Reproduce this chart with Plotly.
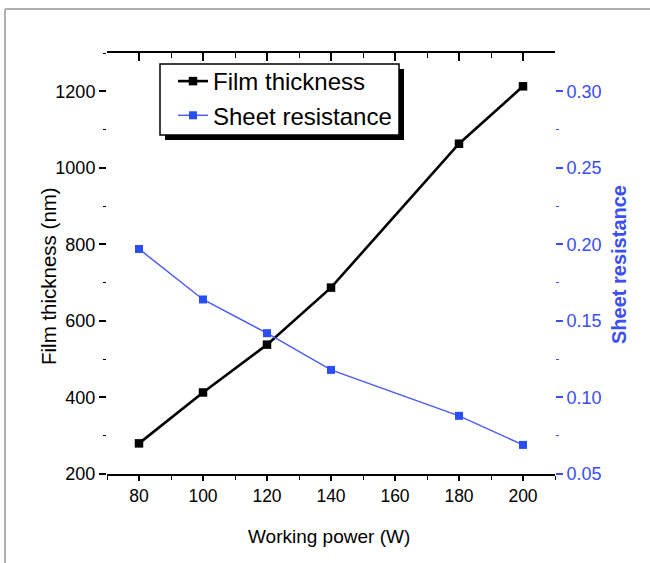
import plotly.graph_objects as go

power = [80, 100, 120, 140, 180, 200]
film_thickness = [280, 413, 538, 687, 1063, 1213]
sheet_resistance = [0.197, 0.164, 0.142, 0.118, 0.088, 0.069]

x_major = [80, 100, 120, 140, 160, 180, 200]
x_minor = [70, 90, 110, 130, 150, 170, 190, 210]
y1_major = [200, 400, 600, 800, 1000, 1200]
y1_minor = [300, 500, 700, 900, 1100, 1300]
y2_major = [0.05, 0.10, 0.15, 0.20, 0.25, 0.30]
y2_labels = ["0.05", "0.10", "0.15", "0.20", "0.25", "0.30"]
y2_minor = [0.075, 0.125, 0.175, 0.225, 0.275]

x_title = "Working power (W)"
y1_title = "Film thickness (nm)"
y2_title = "Sheet resistance"

FONT = "Liberation Sans, Arial, sans-serif"
BLUE = "#3a4ef4"
BLUE_LINE = "#4d5cf2"

# plot area in px: x 107..555, y 53..474
W, H = 650, 563
L, R, T, B = 107, 555, 53, 474
def px(x):
    return (x - L) / (R - L)
def py(y):
    return (B - y) / (B - T)

fig = go.Figure()
fig.add_trace(go.Scatter(
    x=power, y=film_thickness, name="Film thickness", mode="lines+markers",
    line=dict(color="black", width=2.6),
    marker=dict(symbol="square", size=8.5, color="black"),
    xaxis="x", yaxis="y"))
fig.add_trace(go.Scatter(
    x=power, y=sheet_resistance, name="Sheet resistance", mode="lines+markers",
    line=dict(color=BLUE_LINE, width=1.5),
    marker=dict(symbol="square", size=8, color="#2a4ef5"),
    xaxis="x", yaxis="y2"))
fig.add_trace(go.Scatter(x=[None], y=[None], xaxis="x2", yaxis="y",
                         showlegend=False, hoverinfo="skip"))

fig.update_layout(
    width=W, height=H,
    margin=dict(l=L, r=W - R, t=T, b=H - B, pad=0),
    plot_bgcolor="white", paper_bgcolor="white",
    font=dict(family=FONT, size=17, color="black"),
    xaxis=dict(
        range=[70, 210], tickvals=x_major, ticktext=[str(v) for v in x_major],
        ticks="outside", ticklen=5, tickwidth=1.5, tickcolor="black",
        showline=True, linecolor="black", linewidth=2, showgrid=False, zeroline=False,
        minor=dict(tickvals=x_minor, ticks="outside", ticklen=4, tickwidth=1, tickcolor="black"),
        tickfont=dict(size=17.5),
    ),
    xaxis2=dict(
        range=[70, 210], overlaying="x", side="top", anchor="y",
        tickvals=x_major, showticklabels=False,
        ticks="inside", ticklen=8, tickwidth=1.5, tickcolor="black",
        showline=True, linecolor="black", linewidth=2, showgrid=False, zeroline=False,
        minor=dict(tickvals=x_minor, ticks="inside", ticklen=5, tickwidth=1, tickcolor="black"),
    ),
    yaxis=dict(
        range=[200, 1300], tickvals=y1_major, ticktext=[str(v) for v in y1_major],
        ticks="outside", ticklen=7, tickwidth=1.5, tickcolor="black",
        showline=False, showgrid=False, zeroline=False,
        minor=dict(tickvals=y1_minor, ticks="outside", ticklen=3, tickwidth=1, tickcolor="black"),
        tickfont=dict(size=18),
    ),
    yaxis2=dict(
        range=[0.05, 0.325], overlaying="y", side="right", anchor="x",
        tickvals=y2_major, ticktext=y2_labels,
        ticks="outside", ticklen=7, tickwidth=1.5, tickcolor=BLUE,
        showline=False, showgrid=False, zeroline=False,
        minor=dict(tickvals=y2_minor, ticks="outside", ticklen=3, tickwidth=1, tickcolor=BLUE),
        tickfont=dict(size=18, color=BLUE),
    ),
    legend=dict(
        x=px(173), y=py(59), xanchor="left", yanchor="top",
        bgcolor="rgba(0,0,0,0)", borderwidth=0,
        font=dict(size=24, family=FONT, color="black"),
        tracegroupgap=0,
    ),
    showlegend=True,
    annotations=[
        dict(text=x_title, xref="paper", yref="paper", x=px(329), y=py(536),
             xanchor="center", yanchor="middle", showarrow=False,
             font=dict(size=19, color="black")),
        dict(text=y1_title, xref="paper", yref="paper", x=px(48), y=py(276),
             xanchor="center", yanchor="middle", showarrow=False, textangle=-90,
             font=dict(size=20.5, color="black")),
        dict(text="<b>" + y2_title + "</b>", xref="paper", yref="paper", x=px(619), y=py(265),
             xanchor="center", yanchor="middle", showarrow=False, textangle=-90,
             font=dict(size=20, color=BLUE)),
    ],
    shapes=[
        # outer grey frame
        dict(type="line", xref="paper", yref="paper", x0=px(5), x1=px(5), y0=py(9), y1=py(566),
             line=dict(color="#b0b0b0", width=2)),
        dict(type="line", xref="paper", yref="paper", x0=px(5), x1=px(652), y0=py(9), y1=py(9),
             line=dict(color="#b0b0b0", width=2)),
        # legend shadow and box
        dict(type="rect", xref="paper", yref="paper", x0=px(165), x1=px(404), y0=py(140), y1=py(69),
             fillcolor="black", line=dict(width=0), layer="above"),
        dict(type="rect", xref="paper", yref="paper", x0=px(160), x1=px(399), y0=py(135), y1=py(64),
             fillcolor="white", line=dict(color="black", width=1.5), layer="above"),
    ],
)

fig.write_html("out.html")
